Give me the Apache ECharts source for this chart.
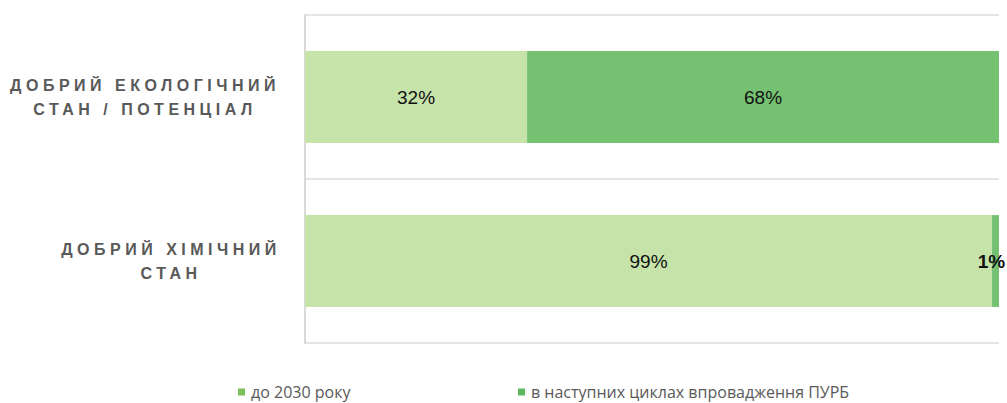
<!DOCTYPE html>
<html>
<head>
<meta charset="utf-8">
<script src="https://cdn.jsdelivr.net/npm/echarts@6/dist/echarts.min.js"></script>
<style>
  html, body { margin: 0; padding: 0; background: #fff; }
  #chart { width: 1007px; height: 403px; }
  /* y-axis labels are letter-spaced in the original; svg text takes css spacing */
  #chart text[style*="Helvetica"] { letter-spacing: 4.5px; }
</style>
</head>
<body>
<div id="chart"></div>
<script>
const categories = ['ДОБРИЙ ЕКОЛОГІЧНИЙ\nСТАН / ПОТЕНЦІАЛ', 'ДОБРИЙ ХІМІЧНИЙ\nСТАН'];
const seriesNames = ['до 2030 року', 'в наступних циклах впровадження ПУРБ'];
const by2030 = [32, 99];
const nextCycles = [68, 1];

const barColors = ['#c6e3aa', '#75c172'];
const legendColors = ['#7cbf58', '#5cb85c'];

const chart = echarts.init(document.getElementById('chart'), null, { renderer: 'svg' });

const labelStyle = {
  show: true,
  position: 'inside',
  formatter: '{c}%',
  fontFamily: 'Liberation Sans, Arial',
  fontSize: 19,
  color: '#111',
};

// the tiny 1% slice gets a bold label nudged in from the edge, as in the original
const toData = vals => vals.map(v => (v < 5 ? { value: v, label: { fontWeight: 'bold', offset: [-4, 0] } } : v));

const yLabelFont = { fontFamily: 'Liberation Sans, Helvetica', fontWeight: 'bold', fontSize: 16, color: '#595959' };

chart.setOption({
  backgroundColor: '#fff',
  animation: false,
  grid: { left: 305, right: 8, top: 15, bottom: 60, outerBoundsMode: 'none' },
  legend: seriesNames.map((name, i) => ({
    data: [{ name, itemStyle: { color: legendColors[i] } }],
    left: i === 0 ? 236 : 516,
    top: 382,
    padding: 2,
    icon: 'rect',
    itemWidth: 7,
    itemHeight: 7,
    itemGap: 0,
    textStyle: { fontFamily: 'Open Sans', fontSize: 16, lineHeight: 16, color: '#595959', padding: [0, 0, 0, 1] },
  })),
  xAxis: { type: 'value', min: 0, max: 100, show: false },
  yAxis: {
    type: 'category',
    inverse: true,
    data: categories,
    axisTick: { show: false },
    axisLine: { show: true, lineStyle: { color: '#d9d9d9', width: 2 } },
    splitLine: { show: true, lineStyle: { color: '#dcdcdc', width: 1.5 } },
    axisLabel: {
      margin: 27,
      ...yLabelFont,
      formatter: (val, idx) => val.split('\n').map(s => `{l${idx}|${s}}`).join('\n'),
      rich: {
        l0: { align: 'center', width: 266, lineHeight: 24, ...yLabelFont },
        l1: { align: 'center', width: 214, lineHeight: 24, ...yLabelFont },
      },
    },
  },
  series: [
    { name: seriesNames[0], type: 'bar', stack: 'total', barWidth: '56%', data: toData(by2030), itemStyle: { color: barColors[0] }, label: labelStyle },
    { name: seriesNames[1], type: 'bar', stack: 'total', barWidth: '56%', data: toData(nextCycles), itemStyle: { color: barColors[1] }, label: labelStyle },
  ],
});
</script>
</body>
</html>
